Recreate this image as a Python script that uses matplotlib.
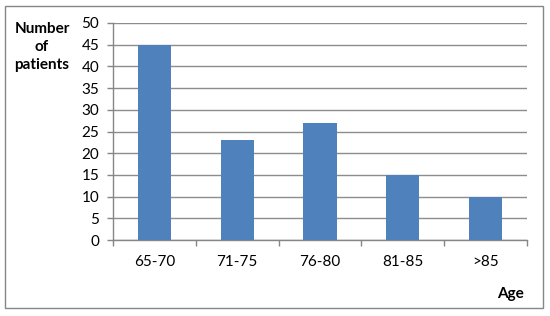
import numpy as np
import matplotlib.pyplot as plt
from matplotlib.patches import Rectangle

# age groups and patient counts
age_groups = ['65-70', '71-75', '76-80', '81-85', '>85']
patients = [45, 23, 27, 15, 10]
y_ticks = list(range(0, 55, 5))

plt.rcParams['font.family'] = ['Lato', 'DejaVu Sans']

fig = plt.figure(figsize=(5.5, 3.16), dpi=100)
ax = fig.add_axes([113 / 550, 1 - 240 / 316, 414 / 550, 217 / 316])

x = np.arange(len(age_groups))
ax.bar(x, patients, width=0.4, color='#4F81BD', zorder=3)

ax.set_xlim(-0.5, len(age_groups) - 0.5)
ax.set_ylim(0, 50)
ax.set_yticks(y_ticks)
ax.set_xticks(x)
ax.set_xticklabels(age_groups)
ax.set_xticks(np.arange(-0.5, len(age_groups)), minor=True)
ax.tick_params(axis='x', which='major', length=0, pad=11, labelsize=11)
ax.tick_params(axis='x', which='minor', length=4, color='#868686', width=1)
ax.tick_params(axis='y', length=4, color='#868686', width=1, pad=6, labelsize=11)

ax.grid(axis='y', color='#8c8c8c', linewidth=1, zorder=0)
for side in ['top', 'right']:
    ax.spines[side].set_visible(False)
for side in ['left', 'bottom']:
    ax.spines[side].set_color('#868686')
    ax.spines[side].set_linewidth(1)

fig.text(42 / 550, 1 - 47 / 316, 'Number\nof\npatients', ha='center', va='center',
         fontsize=11, fontweight='bold', linespacing=1.35)
fig.text(510 / 550, 1 - 294 / 316, 'Age', ha='center', va='center',
         fontsize=11, fontweight='bold')

# outer chart frame
fig.patches.append(Rectangle((5 / 550, 1 - 308 / 316), 538 / 550, 302 / 316,
                             transform=fig.transFigure, fill=False,
                             edgecolor='#868686', linewidth=1))

fig.savefig('out.png', dpi=100)
